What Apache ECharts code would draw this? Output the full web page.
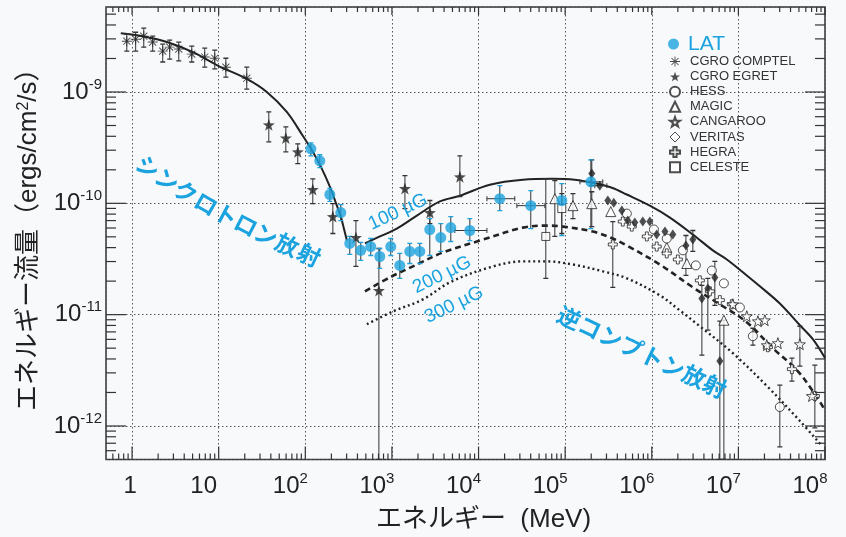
<!DOCTYPE html>
<html><head><meta charset="utf-8">
<script src="https://cdn.jsdelivr.net/npm/echarts@6/dist/echarts.min.js"></script>
<style>html,body{margin:0;padding:0;background:#f8f9fb;}#c{width:846px;height:537px;}</style>
</head><body><div id="c"></div>
<script>
// ---------------- data ----------------
const X_MIN = 0.5, X_MAX = 1e8, Y_MIN = 5e-13, Y_MAX = 5.8e-9;
const xTickExp = [0, 1, 2, 3, 4, 5, 6, 7, 8];
const yTickExp = [-12, -11, -10, -9];

// model curves
const syncE = [0.741, 1.33, 2.52, 5.02, 10.0, 21.1, 35.9, 61.1, 93.5, 122, 155, 192, 225, 257, 279, 302];
const syncF = [3.37e-9, 3.17e-9, 2.81e-9, 2.28e-9, 1.71e-9, 1.31e-9, 1.00e-9, 6.62e-10, 4.04e-10, 2.90e-10, 2.05e-10, 1.41e-10, 1.01e-10, 7.60e-11, 5.93e-11, 4.63e-11];
const ic100E = [488, 726, 1140, 1940, 3580, 6090, 13500, 32500, 72100, 129000, 209000, 346000, 515000, 950000, 1.62e6, 2.98e6, 5.07e6, 7.36e6, 1.25e7, 1.77e7, 3.01e7, 5.13e7, 7.24e7, 1e8];
const ic100F = [4.36e-11, 5.04e-11, 5.93e-11, 7.76e-11, 1.04e-10, 1.17e-10, 1.47e-10, 1.63e-10, 1.66e-10, 1.63e-10, 1.53e-10, 1.38e-10, 1.20e-10, 9.53e-11, 7.45e-11, 5.25e-11, 3.78e-11, 3.13e-11, 2.25e-11, 1.80e-11, 1.26e-11, 8.04e-12, 6.02e-12, 4.07e-12];
const ic200E = [488, 946, 1940, 3870, 10400, 32500, 61500, 94200, 209000, 356000, 515000, 1.24e6, 2.98e6, 6.62e6, 1.25e7, 2.50e7, 4.73e7, 7.24e7, 1e8];
const ic200F = [1.62e-11, 2.16e-11, 2.82e-11, 3.62e-11, 4.63e-11, 6.05e-11, 6.31e-11, 6.18e-11, 5.58e-11, 4.83e-11, 4.18e-11, 2.82e-11, 1.76e-11, 1.19e-11, 8.55e-12, 5.00e-12, 3.18e-12, 2.06e-12, 1.39e-12];
const ic300E = [514, 1030, 2280, 4670, 13500, 32500, 61500, 123000, 272000, 515000, 1.24e6, 2.11e6, 3.59e6, 8.63e6, 2.13e7, 5.13e7, 9.20e7];
const ic300F = [8.20e-12, 1.07e-11, 1.37e-11, 1.95e-11, 2.66e-11, 3.01e-11, 3.01e-11, 2.82e-11, 2.45e-11, 2.12e-11, 1.49e-11, 1.09e-11, 7.87e-12, 4.51e-12, 2.29e-12, 1.11e-12, 6.64e-13];

// Fermi LAT
const latE = [116, 147, 192, 257, 326, 437, 570, 724, 970, 1233, 1608, 2099, 2737, 3665, 4782, 7935, 17600, 40100, 91400, 198000];
const latF = [3.09e-10, 2.41e-10, 1.20e-10, 8.26e-11, 4.36e-11, 3.78e-11, 4.09e-11, 3.33e-11, 4.09e-11, 2.77e-11, 3.70e-11, 3.70e-11, 5.82e-11, 4.93e-11, 6.05e-11, 5.70e-11, 1.10e-10, 9.53e-11, 1.06e-10, 1.56e-10];
const latLo = [2.67e-10, 2.09e-10, 1.04e-10, 7.00e-11, 3.48e-11, 3.07e-11, 3.40e-11, 2.60e-11, 3.40e-11, 2.12e-11, 2.88e-11, 2.88e-11, 3.40e-11, 3.70e-11, 4.54e-11, 4.63e-11, 8.61e-11, 5.93e-11, 5.14e-11, 5.93e-11];
const latHi = [3.49e-10, 2.73e-10, 1.36e-10, 9.73e-11, 5.04e-11, 4.45e-11, 4.83e-11, 3.93e-11, 4.83e-11, 3.55e-11, 4.36e-11, 4.36e-11, 7.29e-11, 6.58e-11, 7.60e-11, 7.29e-11, 1.44e-10, 1.30e-10, 1.50e-10, 2.46e-10];
const latELo = [0, 0, 0, 0, 0, 0, 0, 0, 0, 0, 0, 0, 0, 0, 0, 5320, 12500, 27700, 0, 148000];
const latEHi = [0, 0, 0, 0, 0, 0, 0, 0, 0, 0, 0, 0, 0, 0, 0, 12500, 26200, 58300, 0, 272000];

// CGRO COMPTEL
const comptelE = [0.869, 1.10, 1.365, 1.73, 2.26, 2.72, 3.46, 4.89, 6.90, 9.01, 12.1, 21.1];
const comptelF = [2.86e-9, 2.98e-9, 3.17e-9, 2.81e-9, 2.33e-9, 2.53e-9, 2.43e-9, 2.19e-9, 2.06e-9, 2.01e-9, 1.67e-9, 1.33e-9];
const comptelLo = [2.33e-9, 2.33e-9, 2.53e-9, 2.33e-9, 1.86e-9, 1.97e-9, 1.90e-9, 1.86e-9, 1.67e-9, 1.61e-9, 1.36e-9, 1.06e-9];
const comptelHi = [3.30e-9, 3.44e-9, 3.74e-9, 3.17e-9, 2.69e-9, 2.92e-9, 2.81e-9, 2.58e-9, 2.48e-9, 2.38e-9, 2.01e-9, 1.67e-9];

// CGRO EGRET
const egretE = [37.9, 59.6, 81.9, 122, 208, 384, 707, 1413, 2744, 6090];
const egretF = [5.07e-10, 3.87e-10, 2.90e-10, 1.33e-10, 7.60e-11, 4.93e-11, 1.65e-11, 1.36e-10, 8.26e-11, 1.73e-10];
const egretLo = [3.56e-10, 2.90e-10, 2.27e-10, 9.93e-11, 5.36e-11, 2.71e-11, 5e-13, 8.97e-11, 6.58e-11, 1.15e-10];
const egretHi = [6.62e-10, 4.86e-10, 3.42e-10, 1.66e-10, 9.93e-11, 7.00e-11, 3.93e-11, 1.77e-10, 1.06e-10, 2.67e-10];

// HESS
const hessE = [515000, 1.06e6, 1.49e6, 2.29e6, 3.23e6, 4.94e6, 6.80e6, 1.04e7, 1.47e7, 3.01e7];
const hessF = [8.09e-11, 5.82e-11, 4.83e-11, 3.78e-11, 2.77e-11, 2.49e-11, 1.91e-11, 1.16e-11, 6.41e-12, 1.48e-12];
const hessLo = [0, 0, 0, 0, 0, 0, 0, 0, 5.32e-12, 6.50e-13];
const hessHi = [0, 0, 0, 0, 0, 0, 0, 0, 7.55e-12, 2.33e-12];

// MAGIC
const magicE = [76000, 123000, 203000, 336000, 1.49e6, 2.54e6, 6.80e6];
const magicF = [1.10e-10, 9.53e-11, 9.93e-11, 8.43e-11, 4.01e-11, 2.88e-11, 8.91e-12];
const magicLo = [5.04e-11, 7.29e-11, 6.18e-11, 0, 0, 0, 5e-13];
const magicHi = [1.60e-10, 1.22e-10, 1.27e-10, 0, 0, 0, 8.91e-12];

// CANGAROO
const cangE = [8.63e6, 1.25e7, 1.68e7, 2.02e7, 2.13e7, 2.86e7, 5.13e7, 7.06e7];
const cangF = [1.24e-11, 9.68e-12, 8.73e-12, 8.91e-12, 5.32e-12, 5.55e-12, 5.43e-12, 1.86e-12];
const cangLo = [0, 0, 0, 0, 0, 0, 3.45e-12, 0];
const cangHi = [0, 0, 0, 0, 0, 0, 7.87e-12, 0];

// VERITAS
const verE = [203000, 251000, 311000, 364000, 451000, 529000, 637000, 788000, 950000, 1.14e6, 1.42e6, 1.75e6, 2.48e6, 2.98e6, 3.79e6, 4.44e6, 5.35e6, 6.11e6];
const verF = [1.85e-10, 1.44e-10, 1.06e-10, 1.01e-10, 8.61e-11, 7.00e-11, 6.72e-11, 6.86e-11, 6.86e-11, 5.25e-11, 5.58e-11, 5.25e-11, 4.18e-11, 4.73e-11, 1.40e-11, 1.72e-11, 2.16e-11, 3.83e-12];
const verLo = [1.44e-10, 0, 0, 0, 0, 0, 0, 0, 0, 0, 0, 0, 2.25e-11, 3.70e-11, 4.33e-12, 7.25e-12, 1.21e-11, 5e-13];
const verHi = [2.46e-10, 0, 0, 0, 0, 0, 0, 0, 0, 0, 0, 0, 5.14e-11, 5.70e-11, 1.83e-11, 2.12e-11, 3.01e-11, 8.73e-12];
const verELo = [0, 220000, 0, 0, 0, 0, 0, 0, 0, 0, 0, 0, 0, 0, 0, 0, 0, 0];
const verEHi = [0, 303000, 0, 0, 0, 0, 0, 0, 0, 0, 0, 0, 0, 0, 0, 0, 0, 0];

// HEGRA
const hegraE = [355000, 463000, 588000, 877000, 1.14e6, 1.49e6, 2.00e6, 3.59e6, 4.69e6, 6.11e6, 8.40e6, 2.19e7, 4.15e7, 7.64e7];
const hegraF = [4.27e-11, 6.86e-11, 6.18e-11, 5.04e-11, 4.09e-11, 3.55e-11, 3.13e-11, 2.03e-11, 1.62e-11, 1.35e-11, 1.24e-11, 5.10e-12, 3.24e-12, 1.86e-12];
const hegraLo = [1.76e-11, 0, 0, 0, 0, 0, 0, 0, 0, 0, 0, 0, 2.53e-12, 9.62e-13];
const hegraHi = [6.86e-11, 0, 0, 0, 0, 0, 0, 0, 0, 0, 0, 0, 4.07e-12, 3.52e-12];

// CELESTE
const celE = [59800, 91500];
const celF = [5.04e-11, 8.97e-11];
const celLo = [2.12e-11, 5.36e-11];
const celHi = [1.66e-10, 1.22e-10];

// annotation text
const syncLabelChars = ['シ', 'ン', 'ク', 'ロ', 'ト', 'ロ', 'ン', '放', '射'];
const icLabel = '逆コンプトン放射';
const fieldLabels = ['100 µG', '200 µG', '300 µG'];

// ---------------- style ----------------
const BG = '#f8f9fb';
const CYAN = '#1aa3df';
const INK = '#222222';
const LAT_FONT = '"Liberation Sans", Arial, sans-serif';
const MIX_FONT = '"Liberation Sans", "Noto Sans CJK JP", sans-serif';

const STAR = 'path://M0,-10 L2.35,-3.24 L9.51,-3.09 L3.80,1.24 L5.88,8.09 L0,4 L-5.88,8.09 L-3.80,1.24 L-9.51,-3.09 L-2.35,-3.24 Z';
const ASTER = 'path://M-0.9,-10 L0.9,-10 L0.9,10 L-0.9,10 Z M-10,-0.9 L10,-0.9 L10,0.9 L-10,0.9 Z M-7.7,-6.4 L-6.4,-7.7 L7.7,6.4 L6.4,7.7 Z M6.4,-7.7 L7.7,-6.4 L-6.4,7.7 L-7.7,6.4 Z';
const CROSS = 'path://M-3.2,-10 L3.2,-10 L3.2,-3.2 L10,-3.2 L10,3.2 L3.2,3.2 L3.2,10 L-3.2,10 L-3.2,3.2 L-10,3.2 L-10,-3.2 L-3.2,-3.2 Z';

function pts(E, F) { return E.map((e, i) => [e, F[i]]); }
function errs(E, F, lo, hi, elo, ehi) {
  return E.map((e, i) => [e, F[i], lo ? lo[i] : 0, hi ? hi[i] : 0, elo ? elo[i] : 0, ehi ? ehi[i] : 0]);
}

function errRender(capColor) {
  return function (params, api) {
    const x = api.value(0), y = api.value(1), lo = api.value(2), hi = api.value(3), el = api.value(4), eh = api.value(5);
    const ch = [];
    const st = { stroke: '#333', lineWidth: 1 };
    const cs = { stroke: capColor, lineWidth: 1.3 };
    if (lo > 0 && hi > 0) {
      const a = api.coord([x, lo]), b = api.coord([x, hi]);
      ch.push({ type: 'line', shape: { x1: a[0], y1: a[1], x2: b[0], y2: b[1] }, style: st });
      ch.push({ type: 'line', shape: { x1: a[0] - 2.5, y1: a[1], x2: a[0] + 2.5, y2: a[1] }, style: cs });
      ch.push({ type: 'line', shape: { x1: b[0] - 2.5, y1: b[1], x2: b[0] + 2.5, y2: b[1] }, style: cs });
    }
    if (el > 0 && eh > 0) {
      const a = api.coord([el, y]), b = api.coord([eh, y]);
      ch.push({ type: 'line', shape: { x1: a[0], y1: a[1], x2: b[0], y2: b[1] }, style: st });
      ch.push({ type: 'line', shape: { x1: a[0], y1: a[1] - 2.5, x2: a[0], y2: a[1] + 2.5 }, style: st });
      ch.push({ type: 'line', shape: { x1: b[0], y1: b[1] - 2.5, x2: b[0], y2: b[1] + 2.5 }, style: st });
    }
    return { type: 'group', children: ch };
  };
}
function errSeries(name, data, capColor) {
  return { name: name, type: 'custom', coordinateSystem: 'cartesian2d', data: data, renderItem: errRender(capColor || '#333'), z: 4, silent: true, clip: true };
}
function scat(name, data, symbol, size, style) {
  return { name: name, type: 'scatter', data: data, symbol: symbol, symbolSize: size, itemStyle: style, z: 5, silent: true, clip: true };
}
const OPEN = { color: '#ffffff', borderColor: INK, borderWidth: 1 };

// tick marks (log major + minor) drawn on all four sides
function tickRender(params, api) {
  const c = params.coordSys;
  const L = c.x, R = c.x + c.width, T = c.y, B = c.y + c.height;
  const st = { stroke: '#333', lineWidth: 1.2 };
  const ch = [];
  for (let k = -1; k <= 8; k++) {
    for (let m = 1; m <= 9; m++) {
      const v = m * Math.pow(10, k);
      if (v < X_MIN * 1.0001 || v > X_MAX * 1.0001) continue;
      const px = api.coord([v, 1e-10])[0];
      const maj = m === 1;
      ch.push({ type: 'line', shape: { x1: px, y1: B, x2: px, y2: B - (maj ? 13 : 6) }, style: st });
      ch.push({ type: 'line', shape: { x1: px, y1: T, x2: px, y2: T + (maj ? 8 : 5) }, style: st });
    }
  }
  for (let k = -13; k <= -9; k++) {
    for (let m = 1; m <= 9; m++) {
      const v = m * Math.pow(10, k);
      if (v < Y_MIN * 1.0001 || v > Y_MAX) continue;
      const py = api.coord([1, v])[1];
      const maj = m === 1;
      ch.push({ type: 'line', shape: { x1: L, y1: py, x2: L + (maj ? 20 : 10), y2: py }, style: st });
      ch.push({ type: 'line', shape: { x1: R, y1: py, x2: R - (maj ? 20 : 10), y2: py }, style: st });
    }
  }
  return { type: 'group', children: ch };
}

function isPow(v) { const l = Math.log10(v); return Math.abs(l - Math.round(l)) < 1e-6 ? Math.round(l) : null; }
function xFmt(v) {
  const p = isPow(v);
  if (p === null || xTickExp.indexOf(p) < 0) return '';
  if (p === 0) return '{b|1}{g1|}';
  if (p === 1) return '{b|10}{g|}';
  return '{b|10}{s|' + p + '}{g|}';
}
function yFmt(v) {
  const p = isPow(v);
  if (p === null || yTickExp.indexOf(p) < 0) return '';
  return '{b|10}{s|' + p + '}';
}
const RICH = {
  b: { fontFamily: LAT_FONT, fontSize: 24, color: INK, lineHeight: 30, verticalAlign: 'middle' },
  s: { fontFamily: LAT_FONT, fontSize: 15, color: INK, lineHeight: 16, verticalAlign: 'top' },
  g: { width: 30 }, g1: { width: 4 }
};

const lineCommon = { type: 'line', symbol: 'none', smooth: 0.35, z: 3, silent: true, clip: true };

// curved placement of the synchrotron label (layout only)
const syncPos = [[148, 167, -38], [167, 180, -35], [186, 192, -32], [206, 204, -30], [226, 215, -28], [246, 225, -27], [266, 235, -26], [287, 245, -25], [309, 255, -25]];
const syncText = syncLabelChars.map((c, i) => ({
  type: 'text', x: syncPos[i][0], y: syncPos[i][1], rotation: syncPos[i][2] * Math.PI / 180,
  style: { text: c, font: 'bold 23px "Noto Sans CJK JP"', fill: CYAN, align: 'center', verticalAlign: 'middle' }, z: 10
}));

const option = {
  backgroundColor: BG,
  animation: false,
  grid: { left: 106, right: 21, top: 7, bottom: 77.5, show: true, borderColor: '#333', borderWidth: 1.5, backgroundColor: 'transparent', outerBoundsMode: 'none', containLabel: false },
  xAxis: {
    type: 'log', logBase: 10, min: X_MIN, max: X_MAX,
    name: 'エネルギー  (MeV)', nameLocation: 'middle', nameGap: 47,
    nameTextStyle: { fontFamily: MIX_FONT, fontSize: 26, color: INK, padding: [0, 0, 0, 36] },
    axisLine: { show: false }, axisTick: { show: false },
    splitLine: { show: true, lineStyle: { color: '#555', type: [1.5, 2.5], width: 1 } },
    axisLabel: { margin: 12, formatter: xFmt, rich: RICH, showMinLabel: true, showMaxLabel: true }
  },
  yAxis: {
    type: 'log', logBase: 10, min: Y_MIN, max: Y_MAX,
    name: 'エネルギー流量（ergs/cm{s|2}/s）', nameLocation: 'middle', nameGap: 64,
    nameTextStyle: { fontFamily: MIX_FONT, fontSize: 26, color: INK, rich: { s: { fontFamily: LAT_FONT, fontSize: 16, color: INK, verticalAlign: 'top', lineHeight: 14 } } },
    axisLine: { show: false }, axisTick: { show: false },
    splitLine: { show: true, lineStyle: { color: '#555', type: [1.5, 2.5], width: 1 } },
    axisLabel: { margin: 4, formatter: yFmt, rich: RICH, align: 'right' }
  },
  legend: [
    {
      orient: 'vertical', left: 663, top: 27, itemWidth: 11, itemHeight: 11, selectedMode: false,
      data: [{ name: 'LAT', icon: 'circle' }],
      textStyle: { fontFamily: LAT_FONT, fontSize: 21, color: CYAN, lineHeight: 24, padding: [0, 0, 0, 4] }
    },
    {
      orient: 'vertical', left: 664, top: 49, itemWidth: 10, itemHeight: 10, itemGap: 0.1, selectedMode: false,
      data: [
        { name: 'CGRO COMPTEL', icon: ASTER },
        { name: 'CGRO EGRET', icon: STAR },
        { name: 'HESS', icon: 'circle' },
        { name: 'MAGIC', icon: 'triangle' },
        { name: 'CANGAROO', icon: STAR },
        { name: 'VERITAS', icon: 'diamond', itemStyle: { color: '#ffffff', borderColor: INK, borderWidth: 1 } },
        { name: 'HEGRA', icon: CROSS },
        { name: 'CELESTE', icon: 'rect' }
      ],
      textStyle: { fontFamily: LAT_FONT, fontSize: 13, color: '#333', lineHeight: 15, padding: [0, 0, 0, 5] }
    }
  ],
  graphic: syncText.concat([
    { type: 'text', x: 642, y: 352, rotation: -0.44, style: { text: icLabel, font: 'bold 23px "Noto Sans CJK JP"', fill: CYAN, align: 'center', verticalAlign: 'middle' }, z: 10 },
    { type: 'text', x: 398, y: 212, rotation: 0.44, style: { text: fieldLabels[0], font: '19px "Liberation Sans", Arial', fill: CYAN, align: 'center', verticalAlign: 'middle' }, z: 10 },
    { type: 'text', x: 442, y: 275, rotation: 0.46, style: { text: fieldLabels[1], font: '19px "Liberation Sans", Arial', fill: CYAN, align: 'center', verticalAlign: 'middle' }, z: 10 },
    { type: 'text', x: 454, y: 305, rotation: 0.45, style: { text: fieldLabels[2], font: '19px "Liberation Sans", Arial', fill: CYAN, align: 'center', verticalAlign: 'middle' }, z: 10 }
  ]),
  series: [
    { type: 'custom', coordinateSystem: 'cartesian2d', data: [[1, 1e-10]], renderItem: tickRender, z: 6, silent: true },
    Object.assign({ name: 'sync', data: pts(syncE, syncF), lineStyle: { color: INK, width: 2 } }, lineCommon),
    Object.assign({ name: '100uG', data: pts(ic100E, ic100F), lineStyle: { color: INK, width: 2 } }, lineCommon),
    Object.assign({ name: '200uG', data: pts(ic200E, ic200F), lineStyle: { color: INK, width: 2.6, type: [6, 4] } }, lineCommon),
    Object.assign({ name: '300uG', data: pts(ic300E, ic300F), lineStyle: { color: INK, width: 2.4, type: [2, 3] } }, lineCommon),

    errSeries('comptelErr', errs(comptelE, comptelF, comptelLo, comptelHi)),
    errSeries('egretErr', errs(egretE, egretF, egretLo, egretHi)),
    errSeries('hessErr', errs(hessE, hessF, hessLo, hessHi)),
    errSeries('magicErr', errs(magicE, magicF, magicLo, magicHi)),
    errSeries('cangErr', errs(cangE, cangF, cangLo, cangHi)),
    errSeries('verErr', errs(verE, verF, verLo, verHi, verELo, verEHi)),
    errSeries('hegraErr', errs(hegraE, hegraF, hegraLo, hegraHi)),
    errSeries('celErr', errs(celE, celF, celLo, celHi)),
    errSeries('latErr', errs(latE, latF, latLo, latHi, latELo, latEHi), CYAN),

    scat('CGRO COMPTEL', pts(comptelE, comptelF), ASTER, 10, { color: INK }),
    scat('CGRO EGRET', pts(egretE, egretF), STAR, 12, { color: INK }),
    scat('CELESTE', pts(celE, celF), 'rect', 8, OPEN),
    scat('MAGIC', pts(magicE, magicF), 'triangle', 10, OPEN),
    scat('HEGRA', pts(hegraE, hegraF), CROSS, 9, OPEN),
    scat('HESS', pts(hessE, hessF), 'circle', 9, OPEN),
    scat('CANGAROO', pts(cangE, cangF), STAR, 11, OPEN),
    scat('VERITAS', pts(verE, verF), 'diamond', [7, 10], { color: INK }),
    scat('LAT', pts(latE, latF), 'circle', 11, { color: CYAN })
  ]
};

const chart = echarts.init(document.getElementById('c'), null, { renderer: 'canvas' });
chart.setOption(option);
</script>
</body></html>
